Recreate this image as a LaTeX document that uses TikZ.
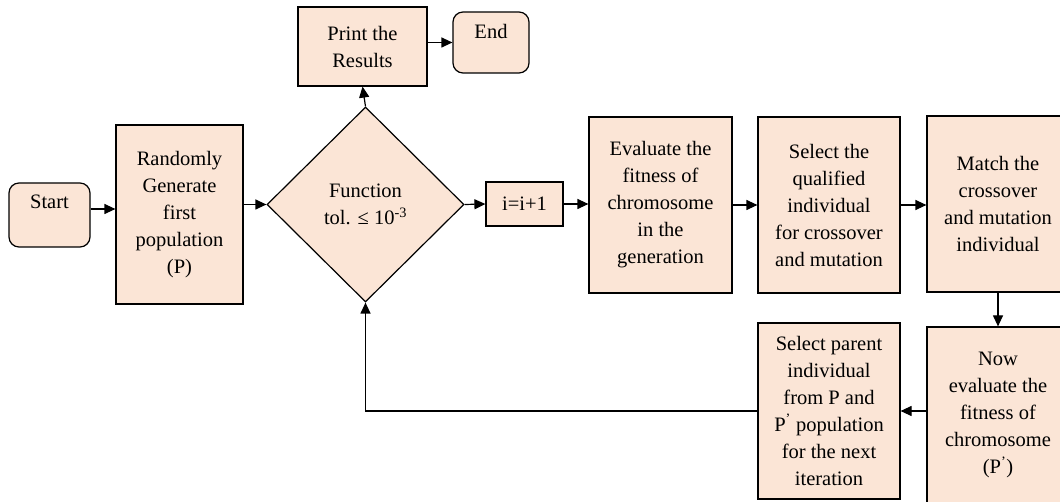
\documentclass[tikz,border=0pt]{standalone}
\usepackage{fontspec}
\setmainfont{Liberation Serif}
\usepackage{xcolor}
\usepackage{tikz}
\usetikzlibrary{shapes.geometric, arrows.meta}
\definecolor{peach}{HTML}{FBE5D6}
\tikzset{every node/.append style={font=\fontsize{20.5}{27}\selectfont}}
\tikzset{
    blk/.style={draw, fill=peach, line width=1.2pt, align=center, inner sep=2pt},
    termbox/.style={blk, rounded corners=10pt},
    decbox/.style={blk, diamond, aspect=1, inner sep=0pt},
    arr/.style={->, line width=1.2pt}
}

\begin{document}
\begin{tikzpicture}[x=1pt, y=-1pt, >={Triangle[length=11pt, width=10pt]}]
    \path[use as bounding box, clip] (0,0) rectangle (1060,502);
    % top row
    \node[termbox, minimum width=81pt, minimum height=64pt, text depth=26pt] (start) at (49.5,215) {Start};
    \node[blk, minimum width=127pt, minimum height=179pt] (rand) at (179.5,214.5) {Randomly\\Generate\\first\\population\\(P)};
    \node[decbox, minimum width=197pt, minimum height=195pt] (test) at (365.5,204.5) {Function\\tol. ≤ 10\textsuperscript{-3}};
    \node[blk, minimum width=129pt, minimum height=79pt] (print) at (362.5,46.5) {Print the\\Results};
    \node[termbox, minimum width=76pt, minimum height=61pt, text depth=23pt] (end) at (491,42.5) {End};
    \node[blk, minimum width=77pt, minimum height=44pt] (incr) at (524.5,204) {i=i+1};
    \node[blk, minimum width=143pt, minimum height=176pt] (eval) at (660.5,205) {Evaluate the\\fitness of\\chromosome\\in the\\generation};
    \node[blk, minimum width=142pt, minimum height=176pt] (sel) at (829,205) {Select the\\qualified\\individual\\for crossover\\and mutation};
    \node[blk, minimum width=142pt, minimum height=176pt] (match) at (998,204) {Match the\\crossover\\and mutation\\individual};
    % bottom row
    \node[blk, minimum width=142pt, minimum height=176pt] (neweval) at (998,415) {Now\\evaluate the\\fitness of\\chromosome\\(P\textsuperscript{'})};
    \node[blk, minimum width=142pt, minimum height=176pt] (parent) at (829,411) {Select parent\\individual\\from P and\\P\textsuperscript{'} population\\for the next\\iteration};
    % connectors
    \draw[arr] ([yshift=6pt]start.east) -- ([yshift=6pt]start.east -| rand.west);
    \draw[arr] (rand.east |- test.west) -- (test.west);
    \draw[arr] (test.north) -- (print.south);
    \draw[arr] (print.east |- end.west) -- (end.west);
    \draw[arr] (test.east) -- (incr.west);
    \draw[arr] (incr.east) -- (incr.east -| eval.west);
    \draw[arr] (eval.east) -- (sel.west);
    \draw[arr] (sel.east) -- (sel.east -| match.west);
    \draw[arr] (match.south) -- (neweval.north);
    \draw[arr] (neweval.west |- parent.east) -- (parent.east);
    \draw[arr] (parent.west) -| (test.south);
\end{tikzpicture}
\end{document}
